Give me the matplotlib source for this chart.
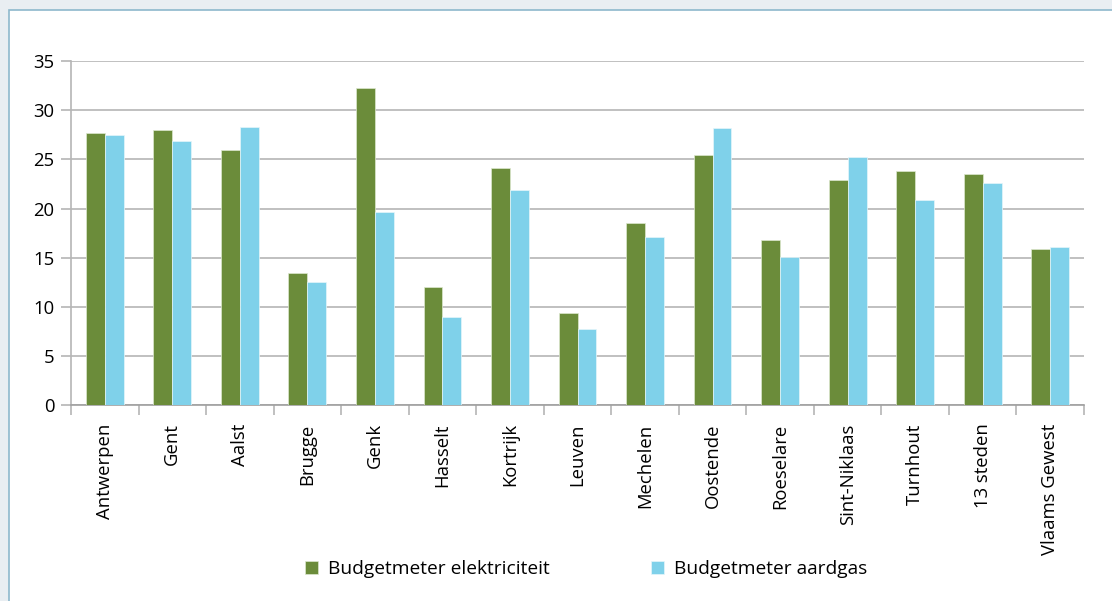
import numpy as np
import matplotlib.pyplot as plt
from matplotlib.patches import Rectangle

plt.rcParams['font.family'] = ['Open Sans', 'DejaVu Sans']

# ===================== data =====================
steden = ["Antwerpen", "Gent", "Aalst", "Brugge", "Genk", "Hasselt", "Kortrijk",
          "Leuven", "Mechelen", "Oostende", "Roeselare", "Sint-Niklaas",
          "Turnhout", "13 steden", "Vlaams Gewest"]
elektriciteit = [27.7, 28.0, 26.0, 13.4, 32.3, 12.0, 24.1, 9.4, 18.5, 25.4,
                 16.8, 22.9, 23.8, 23.5, 15.9]
aardgas = [27.5, 26.9, 28.3, 12.5, 19.6, 9.0, 21.9, 7.8, 17.1, 28.2,
           15.1, 25.2, 20.9, 22.6, 16.1]
yticks = [0, 5, 10, 15, 20, 25, 30, 35]

groen = "#6B8C3A"
blauw = "#7FD1EA"
grijs = "#B5B5B5"

fig = plt.figure(figsize=(11.12, 6.01), dpi=100)
fig.patch.set_facecolor("#E9EEF2")

# wit paneel met lichtblauwe rand
fig.patches.append(Rectangle((9 / 1112, -0.05), 1.1, 1 - 10 / 601 + 0.05,
                             transform=fig.transFigure, facecolor="white",
                             edgecolor="#8DB8CC", linewidth=1.2, zorder=-10))

ax = fig.add_axes([71 / 1112, 1 - 405.3 / 601, (1084 - 71) / 1112, (405.3 - 61) / 601])
ax.set_facecolor("none")

x = np.arange(len(steden))
w = 0.28
ax.bar(x - w / 2, elektriciteit, w, color=groen, edgecolor="#DDE8CF", linewidth=0.5,
       label="Budgetmeter elektriciteit", zorder=3)
ax.bar(x + w / 2, aardgas, w, color=blauw, edgecolor="#E6F6FB", linewidth=0.5,
       label="Budgetmeter aardgas", zorder=3)

ax.set_xlim(-0.5, len(steden) - 0.5)
ax.set_ylim(0, 35)
ax.set_yticks(yticks)
ax.yaxis.grid(True, color=grijs, linewidth=1.2, zorder=0)
ax.set_axisbelow(True)

ax.set_xticks(x)
ax.set_xticklabels(steden, rotation=90, fontsize=13.3)
ax.tick_params(axis="x", which="major", length=0, pad=13)
ax.set_xticks(np.arange(-0.5, len(steden), 1), minor=True)
ax.tick_params(axis="x", which="minor", length=7, color=grijs, width=1.2)
ax.tick_params(axis="y", length=7, color=grijs, width=1.2, labelsize=13.3, pad=5)

for s in ["top", "right"]:
    ax.spines[s].set_visible(False)
ax.spines["left"].set_color(grijs)
ax.spines["left"].set_linewidth(1.2)
ax.spines["bottom"].set_color("#A0A0A0")
ax.spines["bottom"].set_linewidth(1.2)

fig.legend(loc="center", bbox_to_anchor=(0.527, 1 - 569 / 601), ncol=2, frameon=False,
           fontsize=13.8, handlelength=0.7, handleheight=0.7, handletextpad=0.5,
           columnspacing=5.3)

fig.savefig("out.png", dpi=100, facecolor=fig.get_facecolor())
